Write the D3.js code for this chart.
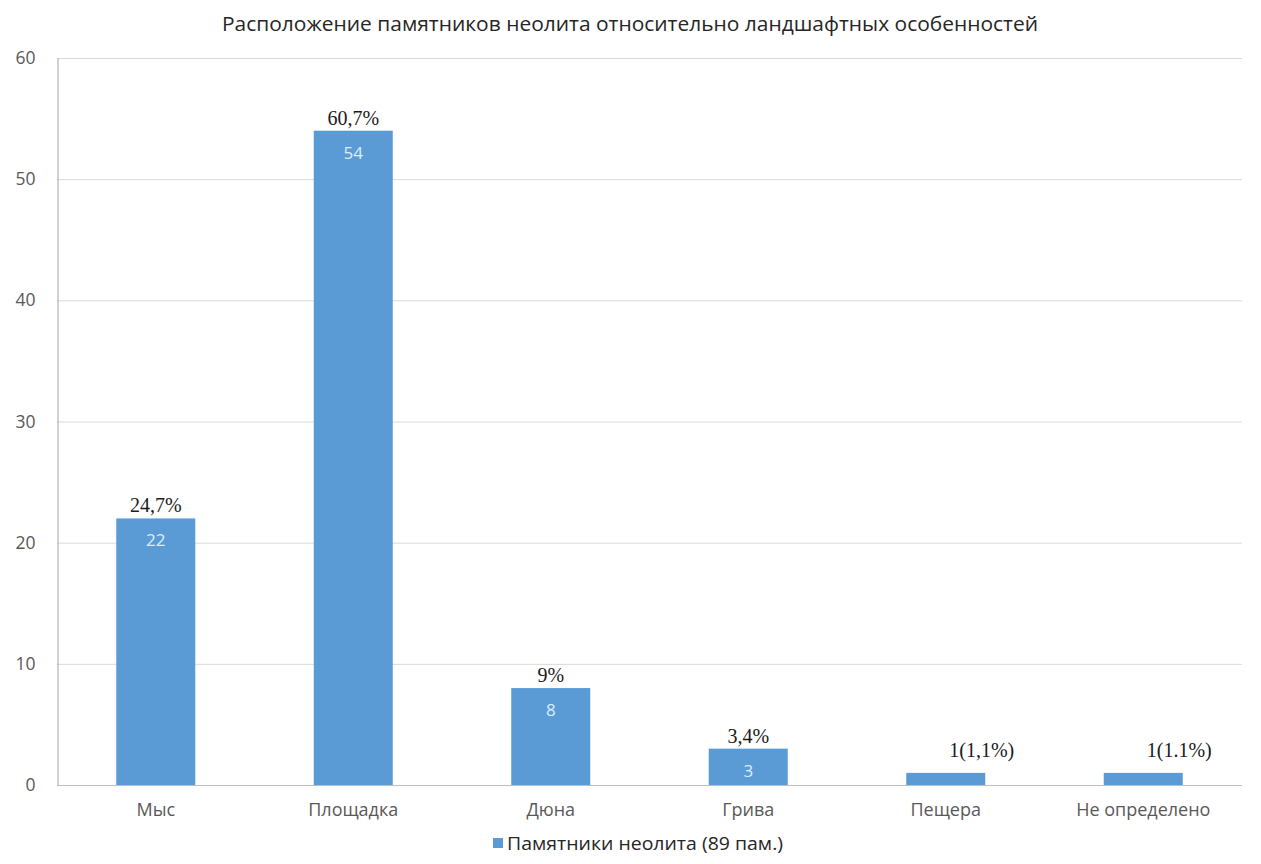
<!DOCTYPE html>
<html><head><meta charset="utf-8">
<script src="https://cdn.jsdelivr.net/npm/d3@7"></script>
<style>body{margin:0;background:#fff}svg{display:block}</style>
</head><body>
<svg id="c" width="1261" height="864"></svg>
<script>
const categories = ["Мыс","Площадка","Дюна","Грива","Пещера","Не определено"];
const values = [22,54,8,3,1,1];
const pctLabels = ["24,7%","60,7%","9%","3,4%","1(1,1%)","1(1.1%)"];
const innerLabels = ["22","54","8","3","",""];
const yTicks = [0,10,20,30,40,50,60];
const title = "Расположение памятников неолита относительно ландшафтных особенностей";
const legendLabel = "Памятники неолита (89 пам.)";

(function(){
const svg = d3.select("#c");
const sans = "'Open Sans','Noto Sans',sans-serif";
const serif = "'Liberation Serif','DejaVu Serif',serif";
const mLeft = 57, mRight = 1242, mTop = 58, mBottom = 785;
const x = d3.scaleBand().domain(categories).range([mLeft, mRight]).paddingInner(0.6).paddingOuter(0.3);
const y = d3.scaleLinear().domain([0,60]).range([mBottom, mTop]);

// gridlines
svg.append("g").selectAll("line").data(yTicks.filter(d=>d>0)).join("line")
  .attr("x1", mLeft).attr("x2", mRight).attr("y1", d=>y(d)+0.5).attr("y2", d=>y(d)+0.5)
  .attr("stroke", "#d9d9d9").attr("stroke-width", 1);

// y axis
const ya = svg.append("g").attr("transform", `translate(${mLeft+0.5},0)`)
  .call(d3.axisLeft(y).tickValues(yTicks).tickSize(0).tickPadding(22));
ya.select(".domain").attr("stroke", "#a6a6a6");
ya.selectAll("text").attr("font-family", sans).attr("font-size", 17.5).attr("fill", "#595959");

// bars
svg.append("g").selectAll("rect").data(values).join("rect")
  .attr("x", (d,i)=>x(categories[i])).attr("width", x.bandwidth())
  .attr("y", d=>y(d)).attr("height", d=>y(0)-y(d)).attr("fill", "#5b9bd5");

// x axis
const xa = svg.append("g").attr("transform", `translate(0,${mBottom})`)
  .call(d3.axisBottom(x).tickSize(0).tickPadding(18));
xa.select(".domain").attr("stroke", "#bfbfbf").attr("d", `M${mLeft},0.5H${mRight}`);
xa.selectAll("text").attr("font-family", sans).attr("font-size", 18).attr("fill", "#595959");

// inner labels
svg.append("g").selectAll("text").data(values).join("text")
  .attr("x", (d,i)=>x(categories[i]) + x.bandwidth()/2)
  .attr("y", d=>y(d) + 28)
  .attr("text-anchor", "middle").attr("font-family", sans).attr("font-size", 17)
  .attr("fill", "#deecf9").text((d,i)=>innerLabels[i]);

// percentage labels
svg.append("g").selectAll("text").data(values).join("text")
  .attr("x", (d,i)=>x(categories[i]) + x.bandwidth()/2 + (innerLabels[i]==="" ? 36 : 0))
  .attr("y", d=>y(d) - (d<2 ? 16 : 6))
  .attr("text-anchor", "middle").attr("font-family", serif).attr("font-size", 20)
  .attr("fill", "#1a1a1a").text((d,i)=>pctLabels[i]);

// title
svg.append("text").attr("x", 630).attr("y", 31).attr("text-anchor", "middle")
  .attr("font-family", sans).attr("font-size", 20).attr("fill", "#262626")
  .attr("textLength", 816).attr("lengthAdjust", "spacingAndGlyphs").text(title);

// legend
const lg = svg.append("g");
lg.append("rect").attr("x", 493).attr("y", 838).attr("width", 10).attr("height", 10).attr("fill", "#5b9bd5");
lg.append("text").attr("x", 507).attr("y", 850).attr("font-family", sans).attr("font-size", 18)
  .attr("fill", "#262626").attr("textLength", 276).attr("lengthAdjust", "spacingAndGlyphs").text(legendLabel);
})();
</script>
</body></html>
